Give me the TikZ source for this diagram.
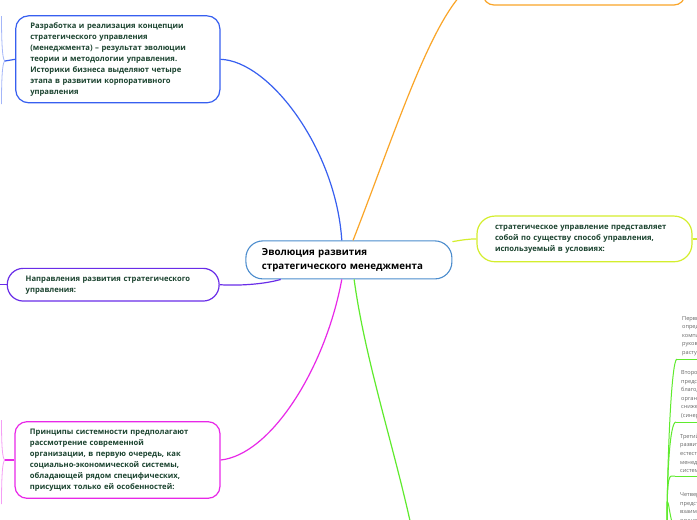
\documentclass[tikz,border=0pt]{standalone}
\usepackage{fontspec}
\setmainfont{Open Sans}
\usetikzlibrary{calc}
\definecolor{txtgreen}{RGB}{28,68,48}
\definecolor{cblue}{RGB}{55,95,240}
\definecolor{corange}{RGB}{250,165,40}
\definecolor{cyellow}{RGB}{212,238,45}
\definecolor{cpurple}{RGB}{105,45,232}
\definecolor{cmagenta}{RGB}{232,40,232}
\definecolor{cgreen}{RGB}{95,235,45}
\definecolor{csteel}{RGB}{75,140,205}
\tikzset{
  ctr/.style={draw=csteel,line width=1.1pt,fill=white,rounded corners=17pt,
              font=\fontsize{9.75}{14}\selectfont\bfseries,align=left,
              text width=174pt,inner xsep=16pt,minimum height=38pt},
  tpc/.style={line width=1.2pt,fill=white,text=txtgreen,
              font=\fontsize{7.65}{11}\selectfont\bfseries,align=left,text width=175pt},
  sub/.style={text=black!60,font=\fontsize{5.6}{8.6}\selectfont,align=left,
              text width=60pt,inner xsep=5pt,inner ysep=3pt,anchor=south west},
  lnk/.style={line width=1.2pt},
  fan/.style={line width=.8pt,opacity=.45},
  sublnk/.style={cgreen,line width=1pt},
}
\begin{document}
\begin{tikzpicture}[x=1pt,y=-1pt]
  \useasboundingbox (0,0) rectangle (697,520);
  \clip (0,0) rectangle (697,520);
  \fill[white] (0,0) rectangle (697,520);
  % central topic
  \node[ctr] (cm) at (348.9,259.9){Эволюция развития\\стратегического менеджмента};
  % main branches
  \node[tpc,draw=cblue,rounded corners=13pt,inner xsep=14.6pt,minimum height=87pt] (stg) at (117.8,59.3)
    {Разработка и реализация концепции\\стратегического управления\\(менеджмента) – результат эволюции\\теории и методологии управления.\\Историки бизнеса выделяют четыре\\этапа в развитии корпоративного\\управления};
  \node[tpc,draw=corange,rounded corners=11pt,minimum width=202pt,minimum height=50pt] (top) at (584,-20){};
  \node[tpc,draw=cyellow,rounded corners=18pt,text width=179pt,inner xsep=18pt,minimum height=45.7pt] (cond) at (584.5,238.9)
    {стратегическое управление представляет\\собой по существу способ управления,\\используемый в условиях:};
  \node[tpc,draw=cpurple,rounded corners=16pt,inner xsep=18.4pt,minimum height=32.7pt] (dir) at (113.2,284.7)
    {Направления развития стратегического\\управления:};
  \node[tpc,draw=cmagenta,rounded corners=12pt,inner xsep=15pt,minimum height=76.6pt] (sys) at (117.5,460)
    {Принципы системности предполагают\\рассмотрение современной\\организации, в первую очередь, как\\социально-экономической системы,\\обладающей рядом специфических,\\присущих только ей особенностей:};
  % connectors from the centre
  \coordinate (dn) at (412,530);
  \draw[lnk,cblue] (cm.110) .. controls (336,150) and (270,61) .. (stg.east);
  \draw[lnk,corange] (cm.78) .. controls (400,120) and (440,-10) .. (top.west);
  \draw[lnk,cyellow] (cm.10) .. controls (462,240) and (468,239) .. (cond.west);
  \draw[lnk,cpurple] (cm.196) .. controls (265,284) and (240,286) .. (dir.east);
  \draw[lnk,cmagenta] (cm.250) .. controls (325,370) and (270,455) .. (sys.east);
  \draw[lnk,cgreen] (cm.285) .. controls (365,360) and (395,450) .. (dn);
  % stubs at the edges
  \coordinate (stgL) at (5,61);
  \coordinate (stgA) at (1.5,16);
  \coordinate (stgB) at (1.5,104);
  \coordinate (dirL) at (0,284.7);
  \coordinate (condR) at (697,238.9);
  \coordinate (sysL) at (5,460);
  \coordinate (sysA) at (1.5,420);
  \coordinate (sysB) at (1.5,504);
  \draw[lnk,cblue] (stg.west) -- (stgL);
  \draw[fan,cblue] (stgL) to[out=180,in=-90,out distance=3pt,in distance=20pt] (stgA);
  \draw[fan,cblue] (stgL) to[out=180,in=90,out distance=3pt,in distance=20pt] (stgB);
  \draw[lnk,cpurple] (dir.west) -- (dirL);
  \draw[lnk,cyellow] (cond.east) -- (condR);
  \draw[lnk,cmagenta] (sys.west) -- (sysL);
  \draw[fan,cmagenta] (sysL) to[out=180,in=-90,out distance=3pt,in distance=20pt] (sysA);
  \draw[fan,cmagenta] (sysL) to[out=180,in=90,out distance=3pt,in distance=20pt] (sysB);
  % stages, cut at the right edge
  \node[sub] (s1) at (677,359){Первый\\определ\\компан\\руковод\\растущ};
  \node[sub] (s2) at (676,422){Второй\\представ\\благод\\организ\\снижен\\(синерг};
  \node[sub] (s3) at (675,476){Третий\\развит\\естест\\менедж\\систем};
  \node[sub] (s4) at (675,527){Четвертый\\представ\\взаимод\\осущест};
  \coordinate (sroot) at (667,530);
  \foreach \s in {s1,s2,s3,s4}{
    \draw[sublnk] (\s.south west) -- (\s.south east);
    \draw[sublnk] (sroot) to[out=90,in=180,out distance=60pt,in distance=6pt] (\s.south west);
  }
\end{tikzpicture}
\end{document}
